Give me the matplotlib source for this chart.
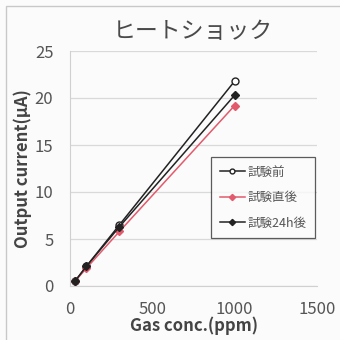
import matplotlib
matplotlib.use("Agg")
import matplotlib.pyplot as plt
from matplotlib.patches import Rectangle

plt.rcParams['font.family'] = ['Noto Sans CJK JP', 'DejaVu Sans']

# Gas concentration (ppm) and sensor output current (μA)
gas_ppm = [30, 100, 300, 1000]
before = [0.5, 2.1, 6.5, 21.8]
just_after = [0.5, 1.9, 5.8, 19.2]
after_24h = [0.5, 2.1, 6.3, 20.3]

series_labels = ["試験前", "試験直後", "試験24h後"]
x_ticks = [0, 500, 1000, 1500]
y_ticks = [0, 5, 10, 15, 20, 25]

fig = plt.figure(figsize=(3.4, 3.4), dpi=100)
fig.patch.set_facecolor('#fbfbfb')

# chart-area border
fig.patches.append(Rectangle((6/340, -0.1), 1.2, (340-6)/340 + 0.1,
                             transform=fig.transFigure, fill=False,
                             edgecolor='#c8c8c8', linewidth=1.0))

ax = fig.add_axes([70/340, 54/340, 247/340, 235/340])
ax.set_facecolor('#fbfbfb')

ax.plot(gas_ppm, before, color='#222222', lw=1.1, marker='o', ms=5,
        mfc='white', mec='#222222', mew=1.0, label=series_labels[0], zorder=3)
ax.plot(gas_ppm, just_after, color='#e25a6c', lw=1.1, marker='D', ms=4.5,
        mfc='#e25a6c', mec='#e25a6c', label=series_labels[1], zorder=3)
ax.plot(gas_ppm, after_24h, color='#222222', lw=1.1, marker='D', ms=4.5,
        mfc='#222222', mec='#222222', label=series_labels[2], zorder=3)

ax.set_xlim(0, 1500)
ax.set_ylim(0, 25)
ax.set_xticks(x_ticks)
ax.set_yticks(y_ticks)
ax.grid(axis='y', color='#d9d9d9', lw=0.9)
ax.set_axisbelow(True)
for s in ['top', 'right']:
    ax.spines[s].set_visible(False)
for s in ['left', 'bottom']:
    ax.spines[s].set_color('#d0d0d0')
ax.tick_params(length=0, labelsize=12, colors='#555555')
ax.tick_params(axis='x', pad=11)
ax.tick_params(axis='y', pad=12)

ax.set_xlabel("Gas conc.(ppm)", fontsize=12, fontweight='bold',
              color='#444444', labelpad=-1)
ax.set_ylabel("Output current(μA)", fontsize=12, fontweight='bold',
              color='#444444', labelpad=2)
fig.text(193/340, 1 - 32/340, "ヒートショック", fontsize=16.5,
         color='#4a4a4a', ha='center', va='center')

leg = ax.legend(loc='upper left', bbox_to_anchor=(0.571, 0.549),
                fontsize=9, frameon=True, fancybox=False,
                labelspacing=1.0, handlelength=2.0, handletextpad=0.2,
                borderpad=0.7, borderaxespad=0, markerscale=0.7,
                labelcolor='#555555')
leg.get_frame().set_edgecolor('#333333')
leg.get_frame().set_linewidth(0.9)
leg.get_frame().set_facecolor('#fbfbfb')

fig.savefig("out.png", dpi=100, facecolor=fig.get_facecolor())
